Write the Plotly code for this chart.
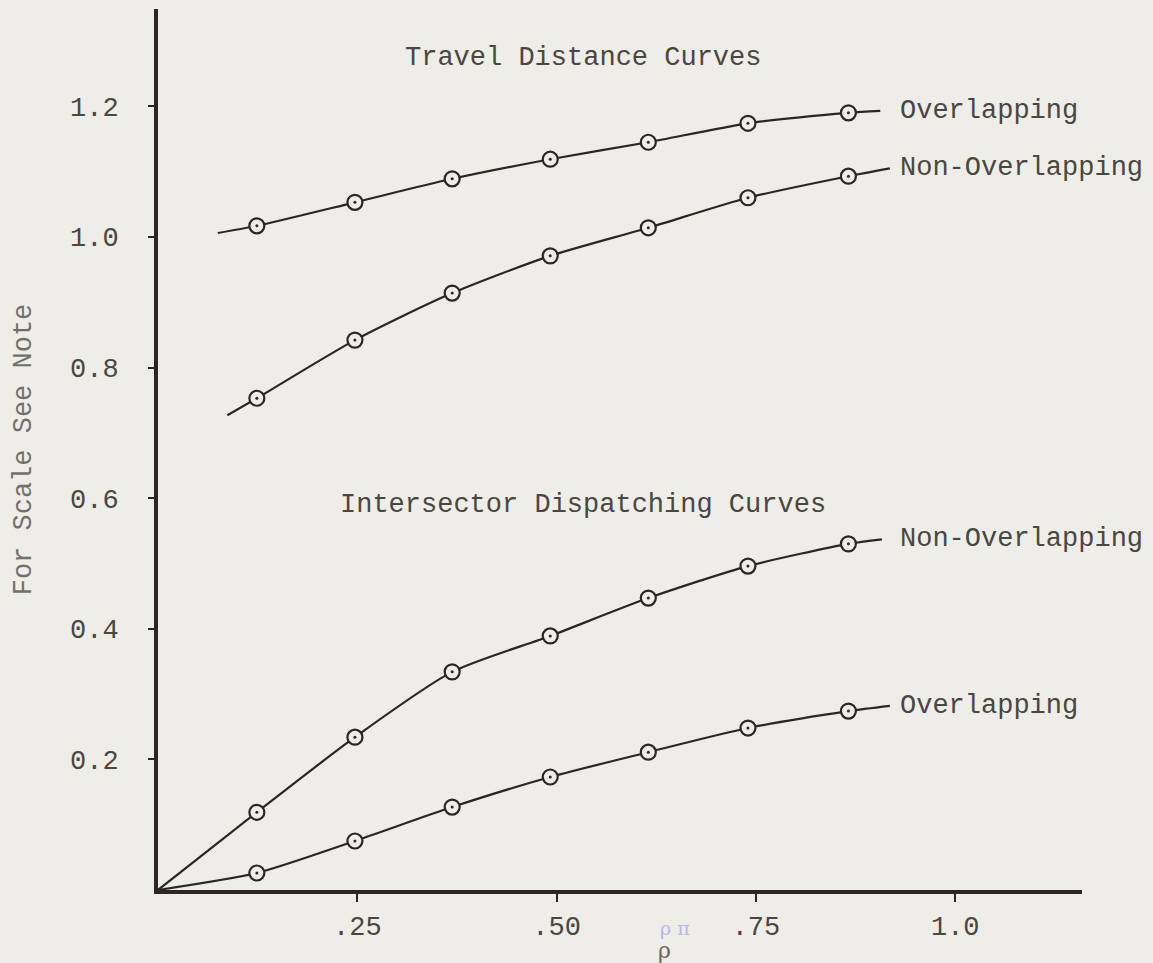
import plotly.graph_objects as go

# ---- data ----
rho = [0.124, 0.247, 0.369, 0.492, 0.615, 0.740, 0.866]

travel_overlap = [1.017, 1.053, 1.089, 1.119, 1.145, 1.174, 1.190]
travel_nonoverlap = [0.753, 0.842, 0.914, 0.971, 1.014, 1.060, 1.093]
inter_nonoverlap = [0.119, 0.234, 0.334, 0.389, 0.447, 0.496, 0.530]
inter_overlap = [0.026, 0.075, 0.127, 0.173, 0.211, 0.248, 0.274]

# where each hand-drawn curve begins and ends (rho, value)
travel_overlap_ends = [(0.075, 1.006), (0.906, 1.193)]
travel_nonoverlap_ends = [(0.087, 0.727), (0.918, 1.105)]
inter_nonoverlap_ends = [(0.0, 0.0), (0.908, 0.537)]
inter_overlap_ends = [(0.0, 0.0), (0.918, 0.282)]

x_tick_vals = [0.25, 0.50, 0.75, 1.0]
x_tick_text = [".25", ".50", ".75", "1.0"]
y_tick_vals = [0.2, 0.4, 0.6, 0.8, 1.0, 1.2]
y_tick_text = ["0.2", "0.4", "0.6", "0.8", "1.0", "1.2"]

curve_labels = ["Overlapping", "Non-Overlapping", "Non-Overlapping", "Overlapping"]
group_titles = ["Travel Distance Curves", "Intersector Dispatching Curves"]
y_title = "For Scale See Note"
x_title = "\u03c1"
pencil_note = "\u03c1 \u03c0"

# ---- styling ----
INK = "#2b2622"
TXT = "#4a4642"
BG = "#efede7"
FONT = "Liberation Mono"
FS = 27

fig = go.Figure()

series = [
    (travel_overlap, travel_overlap_ends),
    (travel_nonoverlap, travel_nonoverlap_ends),
    (inter_nonoverlap, inter_nonoverlap_ends),
    (inter_overlap, inter_overlap_ends),
]

for vals, ends in series:
    xs = [ends[0][0]] + rho + [ends[1][0]]
    ys = [ends[0][1]] + vals + [ends[1][1]]
    fig.add_trace(go.Scatter(
        x=xs, y=ys, mode="lines",
        line=dict(color=INK, width=2.2, shape="spline", smoothing=0.7),
        hoverinfo="skip", showlegend=False))
    fig.add_trace(go.Scatter(
        x=rho, y=vals, mode="markers",
        marker=dict(symbol="circle", size=15, color=BG,
                    line=dict(color=INK, width=2.2)),
        showlegend=False))
    fig.add_trace(go.Scatter(
        x=rho, y=vals, mode="markers",
        marker=dict(symbol="circle", size=3, color=INK, line=dict(width=0)),
        hoverinfo="skip", showlegend=False))

annotations = []
label_y = [travel_overlap_ends[1][1], travel_nonoverlap_ends[1][1],
           inter_nonoverlap_ends[1][1], inter_overlap_ends[1][1]]
for lab, ly in zip(curve_labels, label_y):
    annotations.append(dict(x=0.928, y=ly, xref="x", yref="y", text=lab,
                            showarrow=False, xanchor="left", yanchor="middle",
                            font=dict(family=FONT, size=FS, color=TXT)))

annotations.append(dict(x=0.533, y=1.274, xref="x", yref="y", text=group_titles[0],
                        showarrow=False, xanchor="center", yanchor="middle",
                        font=dict(family=FONT, size=FS, color=TXT)))
annotations.append(dict(x=0.533, y=0.589, xref="x", yref="y", text=group_titles[1],
                        showarrow=False, xanchor="center", yanchor="middle",
                        font=dict(family=FONT, size=FS, color=TXT)))

# x-axis symbol and faint pencil note
annotations.append(dict(x=0.635, y=0, xref="x", yref="paper", yshift=-60,
                        text=x_title, showarrow=False, xanchor="center", yanchor="middle",
                        font=dict(family="DejaVu Serif", size=22, color="#6a6662")))
annotations.append(dict(x=0.648, y=0, xref="x", yref="paper", yshift=-38,
                        text=pencil_note, showarrow=False, xanchor="center", yanchor="middle",
                        font=dict(family="DejaVu Serif", size=19, color="#b3b9e6")))

fig.update_layout(
    width=1153, height=963,
    margin=dict(l=158, r=71, t=9, b=73),
    paper_bgcolor=BG, plot_bgcolor=BG,
    showlegend=False,
    annotations=annotations,
    xaxis=dict(range=[0, 1.159], showgrid=False, zeroline=False,
               showline=True, linecolor=INK, linewidth=4,
               ticks="outside", ticklen=8, tickwidth=2, tickcolor=INK,
               tickvals=x_tick_vals, ticktext=x_tick_text,
               ticklabelstandoff=1,
               tickfont=dict(family=FONT, size=FS, color=TXT)),
    yaxis=dict(range=[0, 1.349], showgrid=False, zeroline=False,
               showline=True, linecolor=INK, linewidth=4,
               ticks="outside", ticklen=6, tickwidth=2, tickcolor=INK,
               tickvals=y_tick_vals, ticktext=y_tick_text,
               ticklabelstandoff=24,
               tickfont=dict(family=FONT, size=FS, color=TXT),
               title=dict(text=y_title, standoff=32,
                          font=dict(family=FONT, size=FS, color="#707070"))),
)

fig.write_html(
    "out.html",
    config={"displayModeBar": False},
    post_script="document.body.style.margin='0';document.body.style.background='%s';" % BG,
)
